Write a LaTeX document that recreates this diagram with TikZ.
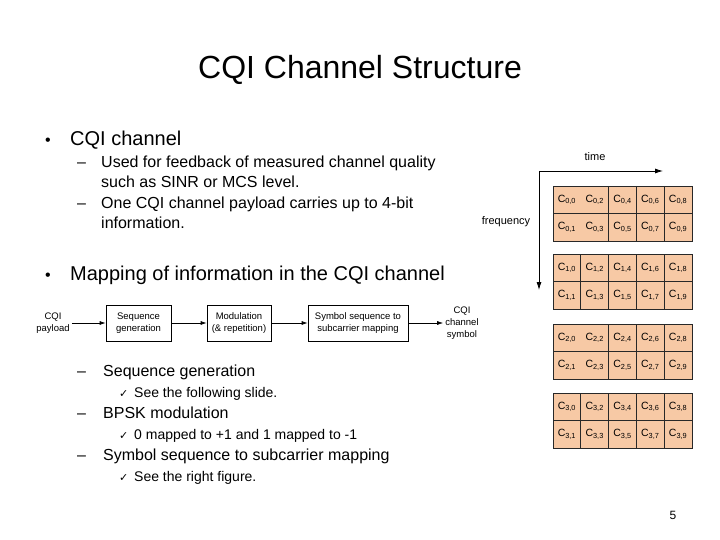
\documentclass[tikz,border=0pt]{standalone}
\usepackage{fontspec}
\setmainfont{Liberation Sans}
\newfontfamily\symfont{DejaVu Sans}
\usetikzlibrary{arrows.meta}
\definecolor{cellfill}{RGB}{247,201,165}
\definecolor{gridgray}{RGB}{40,40,40}
\tikzset{
  txt/.style={inner sep=0pt, anchor=base west},
  lvlone/.style={txt, font=\fontsize{20}{24}\selectfont},
  lvltwo/.style={txt, font=\fontsize{16}{20}\selectfont},
  lvlthree/.style={txt, font=\fontsize{14}{17}\selectfont},
  checkmark/.style={txt, font=\symfont\fontsize{11}{13}\selectfont},
  flowbox/.style={draw, line width=0.7pt, minimum height=36pt, inner sep=2pt,
    align=center, font=\fontsize{9.5}{12}\selectfont},
  flowtext/.style={align=center, inner sep=2pt, font=\fontsize{9.5}{12}\selectfont},
  flowarrow/.style={line width=0.7pt, -{Latex[length=6pt,width=4pt]}},
  axis/.style={line width=0.8pt, -{Latex[length=8pt,width=5pt]}},
  cell/.style={inner sep=0pt, font=\fontsize{10.5}{12}\selectfont},
  gridline/.style={draw=gridgray, line width=0.8pt}
}
\begin{document}
\begin{tikzpicture}[x=1pt,y=-1pt]
\useasboundingbox (0,0) rectangle (720,540);

% title
\node[anchor=base, inner sep=0pt, font=\fontsize{32}{38}\selectfont] (title) at (360,79) {CQI Channel Structure};

% first bullet
\node[lvltwo] (bulA) at (45,146) {•};
\node[lvlone] (cqich) at (70,146) {CQI channel};
\node[lvltwo] (dashA) at (77,168) {–};
\node[lvltwo] (usedA) at (101,168) {Used for feedback of measured channel quality};
\node[lvltwo] (usedB) at (101,188) {such as SINR or MCS level.};
\node[lvltwo] (dashB) at (77,209) {–};
\node[lvltwo] (oneA) at (101,209) {One CQI channel payload carries up to 4-bit};
\node[lvltwo] (oneB) at (101,229) {information.};

% second bullet
\node[lvltwo] (bulB) at (45,280) {•};
\node[lvlone] (mapping) at (70,280) {Mapping of information in the CQI channel};

% block diagram
\node[flowtext] (payload) at (53,323) {CQI\\payload};
\node[flowbox, minimum width=65pt] (seqgen) at (138.5,323) {Sequence\\generation};
\node[flowbox, minimum width=64pt] (modul) at (239,323) {Modulation\\(\& repetition)};
\node[flowbox, minimum width=100pt] (symmap) at (358,323) {Symbol sequence to\\subcarrier mapping};
\node[flowtext] (chsym) at (462,323) {CQI\\channel\\symbol};
\draw[flowarrow] (payload) -- (seqgen);
\draw[flowarrow] (seqgen) -- (modul);
\draw[flowarrow] (modul) -- (symmap);
\draw[flowarrow] (symmap) -- (chsym);

% sub items
\node[lvltwo] (dashC) at (77,376) {–};
\node[lvltwo] (seqtxt) at (103,376) {Sequence generation};
\node[checkmark] (chkA) at (119,397) {✓};
\node[lvlthree] (seetxt) at (134,397) {See the following slide.};
\node[lvltwo] (dashD) at (77,418) {–};
\node[lvltwo] (bpsk) at (103,418) {BPSK modulation};
\node[checkmark] (chkB) at (119,439) {✓};
\node[lvlthree] (maptxt) at (134,439) {0 mapped to +1 and 1 mapped to -1};
\node[lvltwo] (dashE) at (77,460) {–};
\node[lvltwo] (symtxt) at (103,460) {Symbol sequence to subcarrier mapping};
\node[checkmark] (chkC) at (119,481) {✓};
\node[lvlthree] (righttxt) at (134,481) {See the right figure.};

% time / frequency axes
\coordinate (origin) at (539,171);
\coordinate (timeend) at (663,171);
\coordinate (freqend) at (539,290);
\draw[axis] (origin) -- (timeend);
\draw[axis] (origin) -- (freqend);
\node[inner sep=0pt, font=\fontsize{11}{13}\selectfont] (timelbl) at (595,157) {time};
\node[inner sep=0pt, font=\fontsize{11}{13}\selectfont] (freqlbl) at (506,222) {frequency};

% subcarrier grid
\foreach \k/\ytop in {0/186,1/254,2/324,3/393} {
  \fill[cellfill] (553,\ytop) rectangle (692,\ytop+55);
  \foreach \c in {0,...,4} {
    \foreach \r in {0,1} {
      \pgfmathtruncatemacro\idx{2*\c+\r}
      \node[cell] (c\k-\idx) at (566.9+27.8*\c,\ytop+13.75+27.5*\r) {C\textsubscript{\k,\idx}};
    }
  }
  \draw[gridline] (553,\ytop) rectangle (692,\ytop+55);
  \draw[gridline] (553,\ytop+27.5) -- (692,\ytop+27.5);
  \foreach \c in {2,3,4} \draw[gridline] (553+27.8*\c,\ytop) -- ++(0,55);
  \ifodd\k \draw[gridline] (580.8,\ytop) -- ++(0,55); \fi
}

% page number
\node[inner sep=0pt, font=\fontsize{12}{14}\selectfont] (pagenum) at (673,515) {5};
\end{tikzpicture}
\end{document}
